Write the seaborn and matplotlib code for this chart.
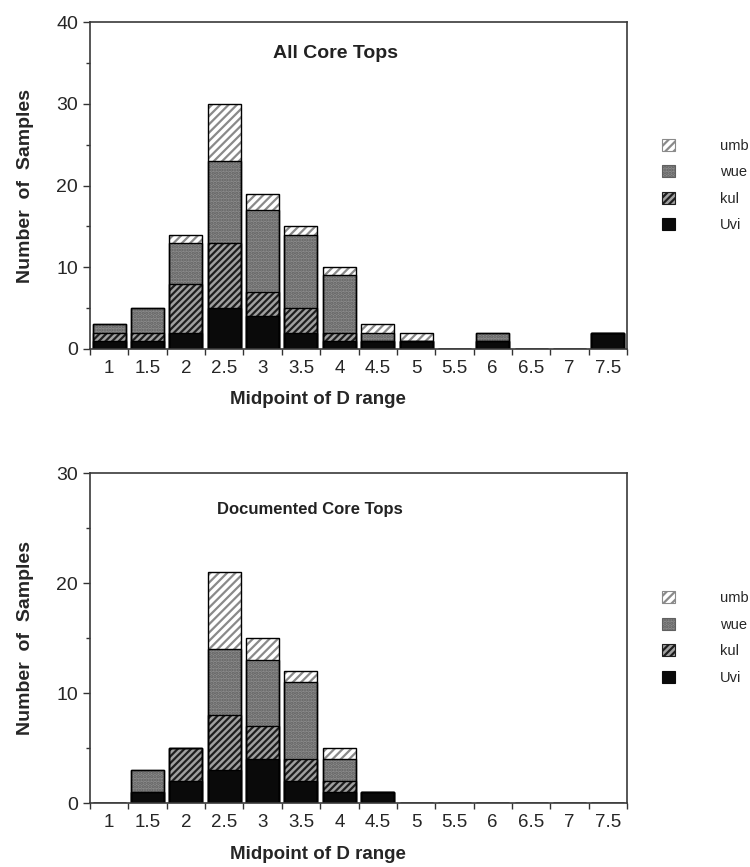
import numpy as np
import pandas as pd
import seaborn as sns
from matplotlib import pyplot as plt
from matplotlib.patches import Patch
from matplotlib.ticker import MultipleLocator, FixedLocator

# midpoints of the D range (x categories)
midpoints = ['1', '1.5', '2', '2.5', '3', '3.5', '4', '4.5', '5', '5.5', '6', '6.5', '7', '7.5']
species = ['Uvi', 'kul', 'wue', 'umb']

# All core tops
all_uvi = [1, 1, 2, 5, 4, 2, 1, 1, 1, 0, 1, 0, 0, 2]
all_kul = [1, 1, 6, 8, 3, 3, 1, 0, 0, 0, 0, 0, 0, 0]
all_wue = [1, 3, 5, 10, 10, 9, 7, 1, 0, 0, 1, 0, 0, 0]
all_umb = [0, 0, 1, 7, 2, 1, 1, 1, 1, 0, 0, 0, 0, 0]

# Documented core tops
doc_uvi = [0, 1, 2, 3, 4, 2, 1, 1, 0, 0, 0, 0, 0, 0]
doc_kul = [0, 0, 3, 5, 3, 2, 1, 0, 0, 0, 0, 0, 0, 0]
doc_wue = [0, 2, 0, 6, 6, 7, 2, 0, 0, 0, 0, 0, 0, 0]
doc_umb = [0, 0, 0, 7, 2, 1, 1, 0, 0, 0, 0, 0, 0, 0]

styles = {
    'Uvi': dict(face='#0a0a0a', hatch=None, hcolor='#0a0a0a'),
    'kul': dict(face='#a0a0a0', hatch='/////', hcolor='#1e1e1e'),
    'wue': dict(face='#8c8c8c', hatch='.....', hcolor='#606060'),
    'umb': dict(face='white', hatch='////', hcolor='#8a8a8a'),
}

sns.set_style('ticks')
plt.rcParams['font.family'] = ['Liberation Sans', 'DejaVu Sans']
plt.rcParams['hatch.linewidth'] = 1.6


def draw_panel(ax, counts, title, title_xy, title_size, ymax):
    df = pd.DataFrame(counts, index=midpoints)[species]
    cum = df.cumsum(axis=1)

    # filled layers, tallest first so lower layers sit on top
    for sp in reversed(species):
        st = styles[sp]
        sns.barplot(x=midpoints, y=cum[sp].values, order=midpoints, ax=ax,
                    color=st['face'], saturation=1, width=0.86, errorbar=None,
                    hatch=st['hatch'], edgecolor=st['hcolor'], linewidth=0)
    # outlines of every layer
    for sp in species:
        sns.barplot(x=midpoints, y=cum[sp].values, order=midpoints, ax=ax,
                    color='black', fill=False, width=0.86, errorbar=None,
                    linewidth=1.0)

    ax.set_xlim(-0.5, len(midpoints) - 0.5)
    ax.set_ylim(0, ymax)
    ax.yaxis.set_major_locator(MultipleLocator(10))
    ax.yaxis.set_minor_locator(MultipleLocator(5))
    ax.xaxis.set_minor_locator(FixedLocator(np.arange(-0.5, len(midpoints), 1)))
    ax.tick_params(axis='x', which='major', length=0, labelsize=13.5, pad=8)
    ax.tick_params(axis='x', which='minor', length=4, width=1, color='#333333')
    ax.tick_params(axis='y', which='major', length=5, width=1, labelsize=14, color='#333333')
    ax.tick_params(axis='y', which='minor', length=3, width=1, color='#333333')
    for s in ax.spines.values():
        s.set_visible(True)
        s.set_color('#3a3a3a')
        s.set_linewidth(1.2)

    ax.set_xlabel('Midpoint of D range', fontsize=13.5, fontweight='bold')
    ax.xaxis.set_label_coords(0.425, -0.13)
    ax.set_ylabel('Number  of  Samples', fontsize=14, fontweight='bold')
    ax.yaxis.set_label_coords(-0.105, 0.5)
    ax.text(title_xy[0], title_xy[1], title, transform=ax.transAxes, ha='center',
            va='center', fontsize=title_size, fontweight='bold', color='#222222')

    handles = [Patch(facecolor=styles[sp]['face'], edgecolor=styles[sp]['hcolor'],
                     hatch=styles[sp]['hatch'], linewidth=0.8) for sp in reversed(species)]
    ax.legend(handles=handles, labels=list(reversed(species)), loc='center left',
              bbox_to_anchor=(1.04, 0.5), frameon=False, handlelength=0.9,
              handleheight=0.9, handletextpad=3.1, labelspacing=0.85, fontsize=10.5)


fig = plt.figure(figsize=(7.5, 8.67), dpi=100)
ax_top = fig.add_axes([0.12, 0.5975, 0.716, 0.377])
ax_bot = fig.add_axes([0.12, 0.0738, 0.716, 0.3806])

draw_panel(ax_top, {'Uvi': all_uvi, 'kul': all_kul, 'wue': all_wue, 'umb': all_umb},
           'All Core Tops', (0.458, 0.905), 14, 40)
draw_panel(ax_bot, {'Uvi': doc_uvi, 'kul': doc_kul, 'wue': doc_wue, 'umb': doc_umb},
           'Documented Core Tops', (0.41, 0.89), 12, 30)

fig.savefig('out.png', dpi=100)
